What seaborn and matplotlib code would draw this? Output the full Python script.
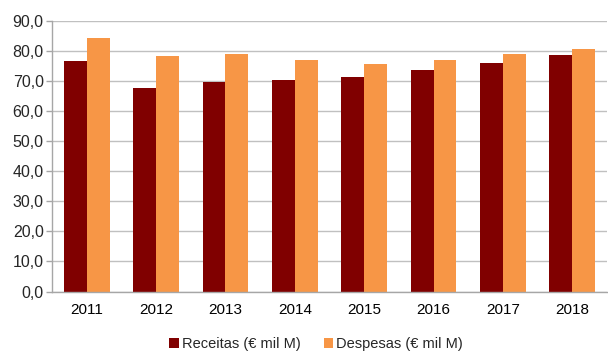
import matplotlib
matplotlib.use("Agg")
import matplotlib.pyplot as plt
from matplotlib.ticker import FixedLocator, FuncFormatter
import seaborn as sns
import pandas as pd
import numpy as np

years = ["2011", "2012", "2013", "2014", "2015", "2016", "2017", "2018"]
receitas = [76.8, 67.7, 69.9, 70.5, 71.6, 73.8, 76.1, 78.8]
despesas = [84.4, 78.3, 79.0, 77.2, 75.8, 77.2, 79.1, 80.9]
series_names = ["Receitas (€ mil M)", "Despesas (€ mil M)"]
colors = ["#800000", "#F79646"]

df = pd.DataFrame({
    "Ano": years * 2,
    "Valor": receitas + despesas,
    "Série": [series_names[0]] * len(years) + [series_names[1]] * len(years),
})

sns.set_style("white")
plt.rcParams["font.family"] = ["Liberation Sans", "DejaVu Sans"]

fig = plt.figure(figsize=(6.08, 3.51), dpi=100)
ax = fig.add_axes([52 / 608, 1 - 291.5 / 351, (607 - 52) / 608, (291.5 - 21.3) / 351])

sns.barplot(data=df, x="Ano", y="Valor", hue="Série", palette=colors,
            width=0.66, gap=0, saturation=1, linewidth=0, ax=ax, legend=True)

ax.set_ylim(0, 90)
ax.set_xlim(-0.5, len(years) - 0.5)
ax.set_yticks(np.arange(0, 91, 10))
ax.yaxis.set_major_formatter(FuncFormatter(lambda v, p: f"{v:.1f}".replace(".", ",")))
ax.grid(axis="y", color="#c0c0c0", linewidth=1)
ax.set_axisbelow(True)

ax.set_xlabel("")
ax.set_ylabel("")

for side in ["top", "right"]:
    ax.spines[side].set_visible(False)
for side in ["left", "bottom"]:
    ax.spines[side].set_color("#a6a6a6")
    ax.spines[side].set_linewidth(1)

ax.tick_params(axis="x", which="major", length=0, labelsize=11, pad=8, colors="#000000")
ax.xaxis.set_minor_locator(FixedLocator(np.arange(-0.5, len(years), 1.0)))
ax.tick_params(axis="x", which="minor", length=4, color="#a6a6a6", width=1)
ax.tick_params(axis="y", which="major", length=4, color="#a6a6a6", width=1,
               labelsize=11.5, pad=2, left=True)

leg = ax.get_legend()
handles = leg.legend_handles
leg.remove()
fig.legend(handles, series_names, loc="center", bbox_to_anchor=(316 / 608, 7 / 351),
           ncol=2, frameon=False, fontsize=10.5, handlelength=0.65, handleheight=0.65,
           handletextpad=0.2, columnspacing=1.6)

fig.savefig("out.png", dpi=100)
